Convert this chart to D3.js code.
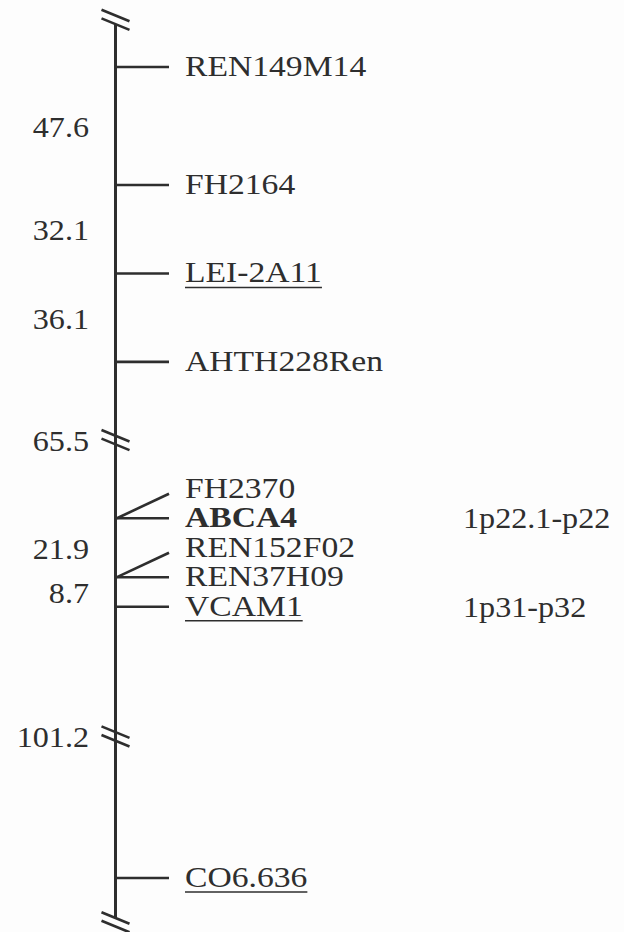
<!DOCTYPE html>
<html>
<head>
<meta charset="utf-8">
<script src="https://cdn.jsdelivr.net/npm/d3@7"></script>
<style>
  html, body { margin: 0; padding: 0; background: #fdfdfd; }
  svg { display: block; }
</style>
</head>
<body>
<script>
// Linkage group: marker loci (top to bottom) and their row positions on the schematic map
const markers    = ["REN149M14", "FH2164", "LEI-2A11", "AHTH228Ren", "FH2370", "ABCA4", "REN152F02", "REN37H09", "VCAM1", "CO6.636"];
const markerRows = [0, 4, 7, 10, 14.3, 15.3, 16.3, 17.3, 18.3, 27.5];

// Markers sharing a locus with the one below them (drawn with a slanted connector)
const coLocated  = ["FH2370", "REN152F02"];
const locusOf    = ["ABCA4", "REN37H09"];

// Text styling classes
const underlined = ["LEI-2A11", "VCAM1", "CO6.636"];
const boldNames  = ["ABCA4"];

// Intervals between consecutive loci, in cM
const loci       = ["REN149M14", "FH2164", "LEI-2A11", "AHTH228Ren", "ABCA4", "REN37H09", "VCAM1", "CO6.636"];
const distances  = [47.6, 32.1, 36.1, 65.5, 21.9, 8.7, 101.2];

// Axis breaks (rows) — ends of the drawn group and truncated intervals
const breakRows  = [-1.6, 12.65, 22.7, 29.0];

// Cytogenetic positions
const cytoMarkers = ["ABCA4", "VCAM1"];
const cytoBands   = ["1p22.1-p22", "1p31-p32"];

const W = 624, H = 932;
const ink = "#2e2e2e";
const font = "'Liberation Serif', 'Times New Roman', Times, serif";
const fontSize = 29.5, nameStretch = 1.14, numStretch = 1.09;

const axisX = 115.5, tickEnd = 169, labelX = 185, distX = 89, cytoX = 463;

const y = d3.scaleLinear().domain([0, 27.5]).range([67, 878]);
const rowOf = new Map(markers.map((m, i) => [m, markerRows[i]]));

const svg = d3.select("body").append("svg")
  .attr("width", W).attr("height", H)
  .attr("viewBox", `0 0 ${W} ${H}`);

svg.append("rect").attr("width", W).attr("height", H).attr("fill", "#fdfdfd");

// Chromosome axis
const gap = 4.3;
svg.append("line")
  .attr("x1", axisX).attr("x2", axisX)
  .attr("y1", y(breakRows[0]) + gap)
  .attr("y2", y(breakRows[breakRows.length - 1]) - gap)
  .attr("stroke", ink).attr("stroke-width", 3);

// Break symbols (double slash)
const brk = svg.append("g").attr("stroke", ink).attr("stroke-width", 2.6).attr("stroke-linecap", "butt");
breakRows.forEach(r => {
  const yc = y(r);
  [-gap, gap].forEach(off => {
    brk.append("line")
      .attr("x1", axisX - 14).attr("y1", yc + off - 5.75)
      .attr("x2", axisX + 14).attr("y2", yc + off + 5.75);
  });
});

// Marker ticks
const ticks = svg.append("g").attr("stroke", ink).attr("stroke-width", 2.6);
markers.forEach(m => {
  const ci = coLocated.indexOf(m);
  if (ci >= 0) {
    const base = y(rowOf.get(locusOf[ci]));
    ticks.append("line")
      .attr("x1", axisX + 1.5).attr("y1", base)
      .attr("x2", tickEnd).attr("y2", y(rowOf.get(m)) + 5);
  } else {
    ticks.append("line")
      .attr("x1", axisX).attr("y1", y(rowOf.get(m)))
      .attr("x2", tickEnd).attr("y2", y(rowOf.get(m)));
  }
});

function stretchedText(g, x, yy, txt, anchor, sx, weight) {
  return g.append("text")
    .attr("transform", `translate(${x},${yy}) scale(${sx},1)`)
    .attr("text-anchor", anchor)
    .attr("font-family", font)
    .attr("font-size", fontSize)
    .attr("font-weight", weight || "normal")
    .attr("fill", ink)
    .text(txt);
}

// Marker names
const names = svg.append("g");
markers.forEach(m => {
  const by = y(rowOf.get(m)) + 9;
  const t = stretchedText(names, labelX, by, m, "start", nameStretch, boldNames.includes(m) ? "bold" : "normal");
  if (underlined.includes(m)) {
    const w = t.node().getComputedTextLength() * nameStretch;
    names.append("line")
      .attr("x1", labelX).attr("x2", labelX + w)
      .attr("y1", by + 5).attr("y2", by + 5)
      .attr("stroke", ink).attr("stroke-width", 1.6);
  }
});

// Interval distances (cM), placed mid-interval or at the break that truncates it
const dist = svg.append("g");
distances.forEach((d, i) => {
  const r0 = rowOf.get(loci[i]), r1 = rowOf.get(loci[i + 1]);
  const br = breakRows.find(b => b > r0 && b < r1);
  const yc = br !== undefined ? y(br) : (y(r0) + y(r1)) / 2;
  stretchedText(dist, distX, yc + 11, d.toFixed(1), "end", numStretch);
});

// Cytogenetic bands
const cyto = svg.append("g");
cytoMarkers.forEach((m, i) => {
  stretchedText(cyto, cytoX, y(rowOf.get(m)) + 10, cytoBands[i], "start", numStretch);
});
</script>
</body>
</html>
